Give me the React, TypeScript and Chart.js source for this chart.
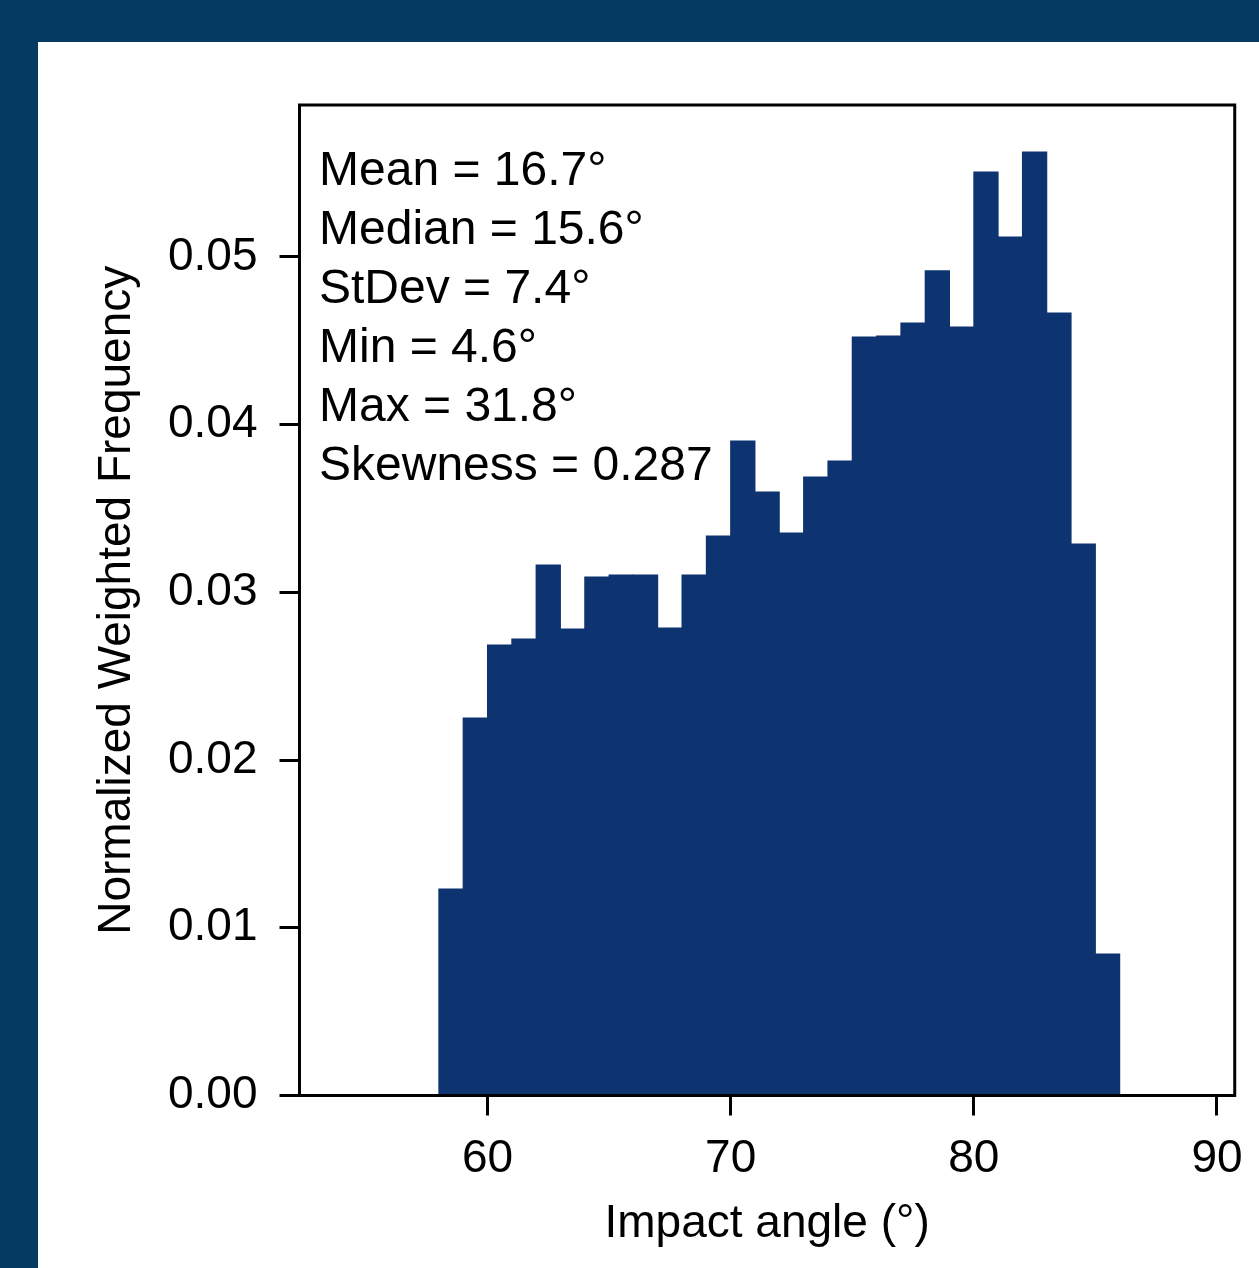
import React, { useEffect, useRef } from "react";
import { Chart, registerables } from "chart.js";

Chart.register(...registerables);

// ---- data ----
const binEdges = [58, 59, 60, 61, 62, 63, 64, 65, 66, 67, 68, 69, 70, 71, 72, 73, 74, 75, 76, 77, 78, 79, 80, 81, 82, 83, 84, 85, 86];
const frequencies = [
  0.01231, 0.02251, 0.02686, 0.02722, 0.03163, 0.02782, 0.03092, 0.03104, 0.03104, 0.02788,
  0.03104, 0.03336, 0.03903, 0.03599, 0.03354, 0.03688, 0.03784, 0.04523, 0.04529, 0.04606,
  0.04917, 0.04583, 0.05507, 0.05119, 0.05626, 0.04666, 0.03289, 0.00844,
];
const xTicks = [60, 70, 80, 90];
const yTicks = [0, 0.01, 0.02, 0.03, 0.04, 0.05];
const statsLines = [
  "Mean = 16.7°",
  "Median = 15.6°",
  "StDev = 7.4°",
  "Min = 4.6°",
  "Max = 31.8°",
  "Skewness = 0.287",
];
const xLabel = "Impact angle (°)";
const yLabel = "Normalized Weighted Frequency";

const FONT = "'Liberation Sans', Arial, Helvetica, sans-serif";
const BAR_COLOR = "#0d3370";
const BG_COLOR = "#053a62";

const backgroundPlugin = {
  id: "pageBackground",
  beforeDraw(chart: any) {
    const { ctx, width, height } = chart;
    ctx.save();
    ctx.fillStyle = BG_COLOR;
    ctx.fillRect(0, 0, width, height);
    ctx.fillStyle = "#ffffff";
    ctx.fillRect(38, 42, width - 38, height - 42);
    ctx.restore();
  },
};

const framePlugin = {
  id: "frame",
  afterDatasetsDraw(chart: any) {
    const { ctx, chartArea } = chart;
    ctx.save();
    ctx.strokeStyle = "#000";
    ctx.lineWidth = 3;
    ctx.strokeRect(chartArea.left, chartArea.top, chartArea.right - chartArea.left, chartArea.bottom - chartArea.top);
    ctx.restore();
  },
};

const statsPlugin = {
  id: "statsText",
  afterDraw(chart: any) {
    const { ctx, chartArea } = chart;
    ctx.save();
    ctx.fillStyle = "#000";
    ctx.font = `48px ${FONT}`;
    ctx.textAlign = "left";
    ctx.textBaseline = "alphabetic";
    statsLines.forEach((line, i) => {
      ctx.fillText(line, chartArea.left + 19.5, chartArea.top + 80 + i * 59);
    });
    ctx.restore();
  },
};

export default function App() {
  const canvasRef = useRef<HTMLCanvasElement | null>(null);

  useEffect(() => {
    if (!canvasRef.current) return;
    const data = frequencies.map((y, i) => ({ x: (binEdges[i] + binEdges[i + 1]) / 2, y }));
    const chart = new Chart(canvasRef.current, {
      type: "bar",
      data: {
        datasets: [
          {
            data: data as any,
            backgroundColor: BAR_COLOR,
            borderWidth: 0,
            barPercentage: 1,
            categoryPercentage: 1,
            inflateAmount: 0.5,
          } as any,
        ],
      },
      options: {
        animation: false,
        responsive: false,
        devicePixelRatio: 1,
        layout: { padding: { left: 0, top: 105, right: 23, bottom: 0 } },
        plugins: { legend: { display: false }, tooltip: { enabled: false } },
        scales: {
          x: {
            type: "linear",
            min: 52.27,
            max: 90.73,
            offset: false,
            afterBuildTicks: (s: any) => {
              s.ticks = xTicks.map((v) => ({ value: v }));
            },
            afterFit: (s: any) => {
              s.height = 172.5;
            },
            ticks: {
              autoSkip: false,
              maxRotation: 0,
              padding: 16,
              color: "#000",
              font: { family: FONT, size: 46 },
              callback: (v: any) => String(v),
            },
            grid: {
              display: true,
              offset: false,
              drawOnChartArea: false,
              drawTicks: true,
              tickLength: 20,
              tickWidth: 3,
              tickColor: "#000",
            },
            border: { display: true, width: 3, color: "#000" },
            title: {
              display: true,
              text: xLabel,
              color: "#000",
              font: { family: FONT, size: 46 },
              padding: { top: 0, bottom: 16 },
            },
          },
          y: {
            type: "linear",
            min: 0,
            max: 0.05906,
            afterBuildTicks: (s: any) => {
              s.ticks = yTicks.map((v) => ({ value: v }));
            },
            afterFit: (s: any) => {
              s.width = 299.5;
            },
            ticks: {
              padding: 22,
              color: "#000",
              font: { family: FONT, size: 46 },
              callback: (v: any) => Number(v).toFixed(2),
            },
            grid: {
              display: true,
              drawOnChartArea: false,
              drawTicks: true,
              tickLength: 20,
              tickWidth: 3,
              tickColor: "#000",
            },
            border: { display: true, width: 3, color: "#000" },
            title: {
              display: true,
              text: yLabel,
              color: "#000",
              font: { family: FONT, size: 46 },
              padding: { top: 90, bottom: 0 },
            },
          },
        },
      },
      plugins: [backgroundPlugin, framePlugin, statsPlugin],
    });
    return () => chart.destroy();
  }, []);

  return (
    <div style={{ position: "fixed", left: 0, top: 0, width: 1259, height: 1268, overflow: "hidden" }}>
      <canvas ref={canvasRef} width={1259} height={1268} style={{ display: "block", width: 1259, height: 1268 }} />
    </div>
  );
}
